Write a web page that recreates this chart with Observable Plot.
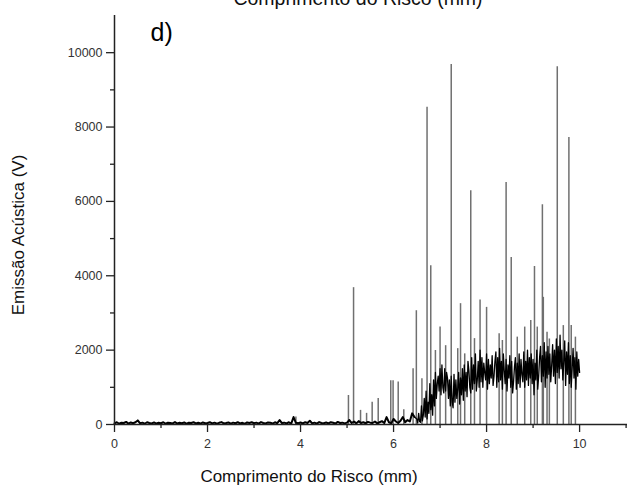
<!DOCTYPE html>
<html>
<head>
<meta charset="utf-8">
<script src="https://cdn.jsdelivr.net/npm/d3@7"></script>
<script src="https://cdn.jsdelivr.net/npm/@observablehq/plot@0.6"></script>
<style>
  html, body { margin: 0; padding: 0; background: #fff; }
</style>
</head>
<body>
<div id="chart"></div>
<script>
// ---- tick labels ----
const xMajorTicks = [0, 2, 4, 6, 8, 10];
const xMinorTicks = [1, 3, 5, 7, 9, 11];
const yMajorTicks = [0, 2000, 4000, 6000, 8000, 10000];
const yMinorTicks = [1000, 3000, 5000, 7000, 9000];

// ---- texts ----
const xLabel = "Comprimento do Risco (mm)";
const yLabel = "Emissão Acústica (V)";
const panelTag = "d)";

// ---- continuous signal (segments: start, step) ----
const baseAStart = 0, baseAStep = 0.05;
const baseAValues = [30,60,20,50,40,70,25,55,35,60, 110,30,50,20,60,40,30,55,25,45,
  35,60,20,50,40,30,65,25,45,35, 55,20,50,40,60,30,45,25,55,35,
  40,60,30,50,20,45,65,30,40,55, 25,50,35,60,30,45,20,55,40,60,
  35,50,25,65,40,30,55,45,25,60, 35,120,40,50,30,60,25,200,45,35,
  55,30,60,40,100,30,50,25,65,40, 35,55,30,60,45,25,70,40,50,30];

const baseBStart = 5.0, baseBStep = 0.05;
const baseBValues = [50,120,40,80,30,90,40,60,35,70, 50,40,80,30,60,90,40,200,60,30,
  150,80,40,100,200,60,120,80,300,200];

const bandStart = 6.5, bandStep = 0.02;
const bandValues = [
  150,40,300,80,60,500,100,250,700,200,
  900,150,600,300,1100,400,800,250,1200,500,
  1400,700,1100,1300,900,1500,800,1600,1000,850,
  1500,900,1400,1250,700,1200,500,1300,600,450,
  1350,600,1200,700,950,1400,550,1250,800,1500,
  650,1600,900,1400,750,1700,1450,1000,850,1800,
  950,1600,1100,1900,900,1200,1700,1000,2000,1150,
  1800,1000,1650,1400,1200,1900,950,1750,1100,1600,
  1250,1850,1050,1300,1700,1950,1000,1800,1150,2050,
  1200,1700,950,1900,1450,1100,1750,900,1600,1250,
  1850,1000,1700,850,1150,1550,1800,950,1650,1100,
  1900,1000,1750,1350,1150,1950,1000,1700,1200,2000,
  1050,1800,1250,1900,1100,1750,800,1650,1200,2000,
  950,1300,1800,2100,1150,1850,1300,2200,1000,1950,
  1250,2100,1350,1900,1150,1600,2150,1300,2000,1100,
  2300,1400,2100,1250,2400,1500,2000,1200,1700,2250,
  1050,1950,1350,2200,1100,1850,1000,1500,2050,1250,
  1800,950,1950,1300,1750,1400
];

// ---- isolated acoustic-emission spikes (position mm, peak V) ----
const spikeX = [3.9, 5.03, 5.14, 5.29, 5.42, 5.54, 5.67, 5.94, 5.99, 6.10, 6.22, 6.42, 6.49, 6.61,
  6.72, 6.80, 6.90, 7.00, 7.12, 7.24, 7.38, 7.44, 7.53, 7.66, 7.74, 7.86, 8.00, 8.27, 8.34,
  8.42, 8.53, 8.66, 8.82, 8.95, 9.03, 9.09, 9.20, 9.22, 9.30, 9.35, 9.52, 9.65, 9.77, 9.82, 9.91];
const spikeY = [200, 780, 3680, 380, 300, 600, 700, 1180, 1180, 1140, 400, 1500, 3060, 1230,
  8530, 4270, 1990, 2620, 2120, 9680, 2040, 3250, 1900, 6290, 2310, 3350, 3150, 2440, 2260,
  6510, 4490, 2350, 2620, 2800, 4250, 2620, 5910, 3420, 2480, 2300, 9620, 2660, 7720, 2660, 2350];

// build tables for the library
const baseline = [];
baseAValues.forEach((v, i) => baseline.push({x: baseAStart + i * baseAStep, y: v}));
baseBValues.forEach((v, i) => baseline.push({x: baseBStart + i * baseBStep, y: v}));
const band = [];
band.push(baseline[baseline.length - 1]);
bandValues.forEach((v, i) => band.push({x: bandStart + i * bandStep, y: v}));
const spikes = spikeX.map((x, i) => ({x, y: spikeY[i]}));

const font = "'Liberation Sans', Arial, Helvetica, sans-serif";

const chart = Plot.plot({
  width: 627,
  height: 490,
  marginLeft: 114,
  marginRight: 0,
  marginTop: 15,
  marginBottom: 66,
  x: {domain: [0, 11.03], axis: null},
  y: {domain: [0, 11000], axis: null},
  style: {fontFamily: font, background: "#fff", overflow: "visible"},
  marks: [
    // spikes (grey thin lines)
    Plot.ruleX(spikes, {x: "x", y1: 0, y2: "y", stroke: "#707070", strokeWidth: 1.5}),
    // noisy signal
    Plot.line(baseline, {x: "x", y: "y", stroke: "#000", strokeWidth: 2}),
    Plot.line(band, {x: "x", y: "y", stroke: "#000", strokeWidth: 1.3}),
    // axis lines
    Plot.ruleX([0], {stroke: "#222", strokeWidth: 1.5}),
    Plot.ruleY([0], {stroke: "#222", strokeWidth: 1.5}),
    // x axis ticks
    Plot.axisX(xMajorTicks, {anchor: "bottom", tickSize: 8, tickPadding: 7, fontSize: 12.5,
      stroke: "#222", fill: "#333", strokeWidth: 1.3, label: null, tickFormat: d => String(d)}),
    Plot.axisX(xMinorTicks, {anchor: "bottom", tickSize: 4, stroke: "#222", strokeWidth: 1.3,
      label: null, tickFormat: () => ""}),
    // y axis ticks
    Plot.axisY(yMajorTicks, {anchor: "left", tickSize: 8, tickPadding: 4, fontSize: 12.5,
      stroke: "#222", fill: "#333", strokeWidth: 1.3, label: null, tickFormat: d => String(d)}),
    Plot.axisY(yMinorTicks, {anchor: "left", tickSize: 4, stroke: "#222", strokeWidth: 1.3,
      label: null, tickFormat: () => ""}),
    // axis titles
    Plot.text([xLabel], {frameAnchor: "bottom", text: d => d, dx: -62, dy: 52,
      fontSize: 17, fill: "#111", textAnchor: "middle", lineAnchor: "middle"}),
    Plot.text([yLabel], {frameAnchor: "left", text: d => d, rotate: -90, dx: -95.5, dy: 15,
      fontSize: 17, fill: "#111", textAnchor: "middle", lineAnchor: "middle"}),
    // cut-off top title (from the figure above)
    Plot.text([xLabel], {frameAnchor: "top", text: d => d, dx: -13, dy: -11,
      fontSize: 19.5, fill: "#111", textAnchor: "middle", lineAnchor: "bottom"}),
    // panel tag
    Plot.text([panelTag], {frameAnchor: "top-left", text: d => d, dx: 36, dy: 25,
      fontSize: 25, fill: "#000", textAnchor: "start", lineAnchor: "bottom"})
  ]
});

document.getElementById("chart").appendChild(chart);
</script>
</body>
</html>
